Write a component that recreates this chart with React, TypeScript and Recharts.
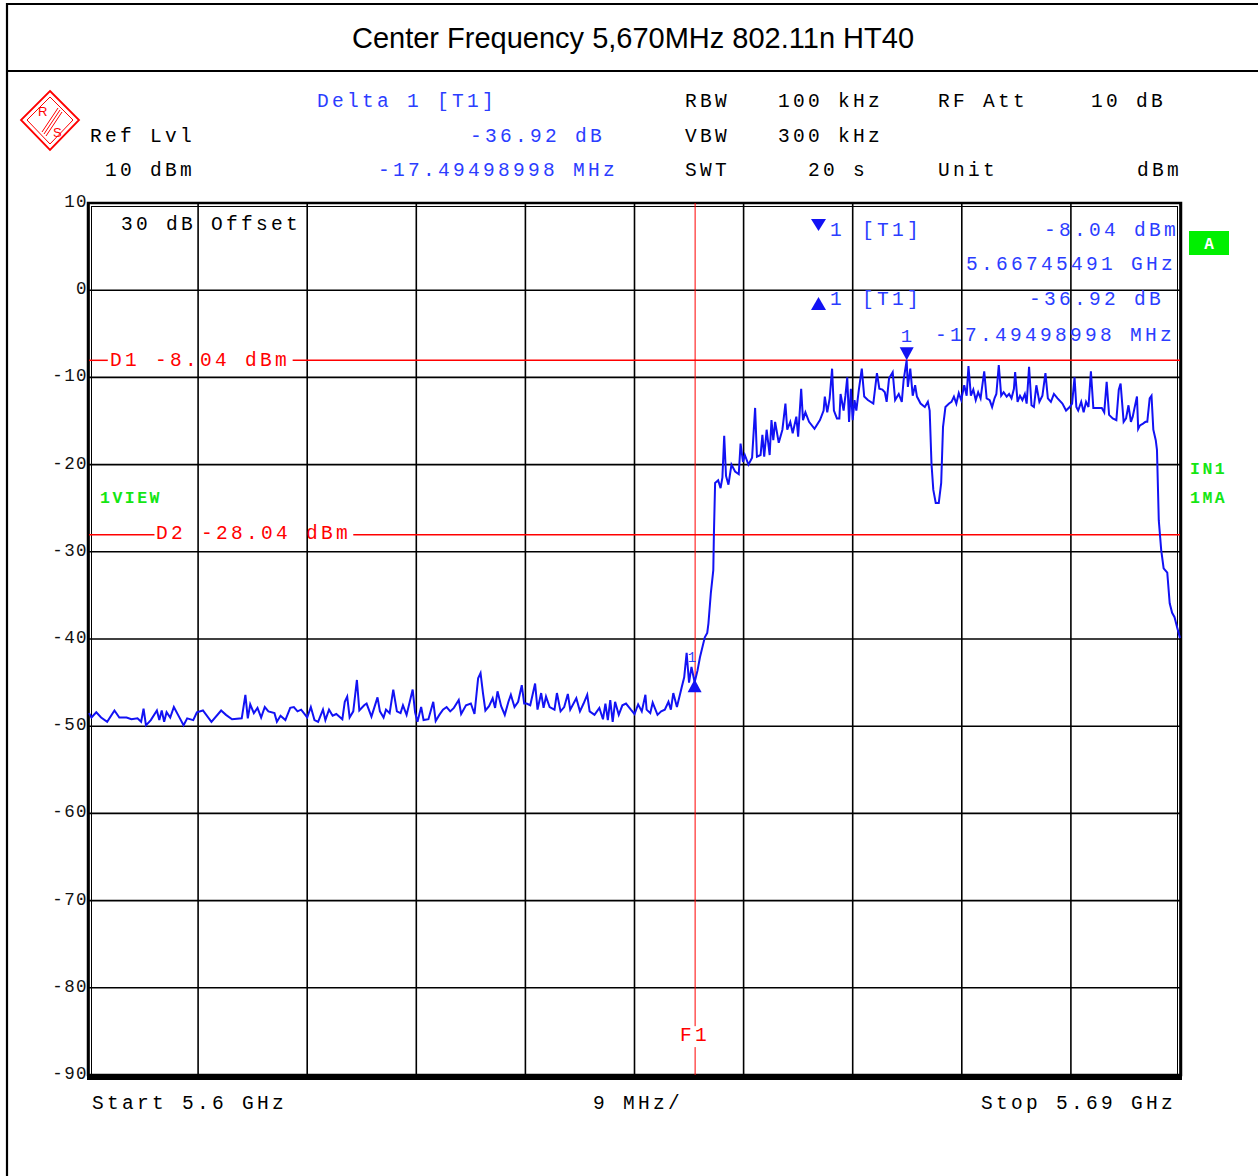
import React from 'react';
import { LineChart, Line, XAxis, YAxis, CartesianGrid, ReferenceLine, ReferenceDot, ReferenceArea } from 'recharts';

// frequencies are MHz above the 5.6 GHz start, levels in dBm
const gridFreqs = [0, 9, 18, 27, 36, 45, 54, 63, 72, 81, 90];
const levelTicks = [10, 0, -10, -20, -30, -40, -50, -60, -70, -80, -90];

const noiseFloor: [number, number][] = [
  [0, -48.5], [0.2, -49.0], [0.6, -48.4], [1.0, -49.0], [1.5, -49.5], [2.1, -48.2], [2.5, -49.0], [3.1, -49.0],
  [3.5, -49.2], [4.0, -49.1], [4.3, -49.5], [4.5, -48.0], [4.7, -49.9], [5.1, -49.3], [5.6, -48.2], [5.8, -49.3],
  [6.0, -48.2], [6.2, -49.5], [6.4, -48.4], [6.7, -49.0], [7.0, -47.8], [7.5, -49.1], [7.8, -49.9], [8.1, -49.1],
  [8.6, -49.3], [8.9, -48.4], [9.4, -48.2], [10.1, -49.5], [10.9, -48.2], [11.3, -48.7], [11.8, -49.2], [12.6, -49.1],
  [12.9, -46.4], [13.1, -49.1], [13.3, -47.5], [13.6, -48.5], [13.9, -47.9], [14.2, -49.0], [14.5, -47.8], [14.8, -48.3],
  [15.3, -48.5], [15.5, -49.5], [15.8, -48.8], [16.2, -49.3], [16.6, -47.9], [16.9, -47.8], [17.2, -48.3], [17.5, -48.1],
  [18.0, -49.0], [18.3, -47.8], [18.6, -49.3], [18.9, -49.5], [19.3, -48.1], [19.5, -49.3], [19.8, -48.1], [20.1, -48.8],
  [20.4, -48.6], [20.9, -49.2], [21.1, -47.2], [21.3, -46.6], [21.5, -49.0], [21.8, -48.3], [22.1, -44.7], [22.3, -48.2],
  [22.7, -47.6], [22.9, -47.4], [23.3, -48.9], [23.8, -46.7], [24.0, -48.3], [24.3, -49.0], [24.5, -48.1], [24.8, -48.5],
  [25.1, -45.8], [25.4, -48.3], [25.7, -48.5], [25.9, -47.6], [26.2, -48.7], [26.7, -45.8], [26.9, -48.4], [27.1, -49.5],
  [27.4, -47.8], [27.6, -49.3], [28.0, -49.2], [28.4, -47.2], [28.6, -49.4], [28.9, -48.7], [29.2, -48.1], [29.5, -47.8],
  [29.8, -48.3], [30.1, -47.9], [30.5, -47.0], [30.7, -48.6], [31.1, -47.6], [31.5, -47.4], [31.8, -48.6], [32.1, -44.5],
  [32.3, -43.9], [32.5, -46.2], [32.7, -48.2], [33.0, -47.7], [33.3, -46.8], [33.5, -47.9], [33.7, -46.0], [34.0, -47.7],
  [34.3, -48.7], [34.6, -47.2], [34.8, -46.4], [35.1, -47.8], [35.4, -47.2], [35.7, -45.3], [35.9, -47.4], [36.1, -47.4],
  [36.4, -47.6], [36.8, -45.1], [37.0, -48.1], [37.3, -46.2], [37.5, -47.9], [37.7, -46.6], [38.0, -47.8], [38.4, -48.1],
  [38.6, -46.2], [38.9, -48.3], [39.2, -47.8], [39.5, -46.3], [39.7, -48.1], [40.2, -46.8], [40.5, -48.3], [40.8, -47.4],
  [41.1, -46.4], [41.3, -48.3], [41.7, -48.7], [42.1, -47.9], [42.4, -49.2], [42.6, -47.4], [42.8, -49.3], [43.0, -47.0],
  [43.2, -49.5], [43.4, -47.2], [43.7, -48.7], [44.0, -47.6], [44.3, -47.4], [44.7, -48.1], [45.0, -48.6], [45.3, -47.5],
  [45.6, -48.3], [45.9, -46.4], [46.0, -48.1], [46.3, -48.5], [46.5, -47.3], [46.9, -48.7], [47.2, -48.3], [47.5, -48.1],
  [47.8, -47.2], [48.0, -48.1], [48.2, -46.2], [48.5, -47.8], [48.9, -45.5],
];

const rampUp: [number, number][] = [
  [49.1, -44.4], [49.3, -41.6], [49.5, -45.0], [49.7, -43.2], [49.96, -44.96], [50.2, -43.6], [50.4, -42.1], [50.8, -39.8],
  [51.0, -39.3], [51.1, -38.2], [51.3, -34.7], [51.5, -32.1], [51.55, -28.0], [51.65, -22.1], [51.9, -21.8], [52.1, -22.7],
];

const passband: [number, number][] = [
  [52.25, -21.5], [52.4, -16.7], [52.55, -21.3], [52.75, -22.3], [53.0, -20.0], [53.3, -20.8], [53.6, -21.1], [53.75, -17.6],
  [53.95, -19.7], [54.1, -18.9], [54.4, -20.0], [54.7, -19.2], [54.95, -13.5], [55.1, -19.1], [55.4, -18.9], [55.55, -16.6],
  [55.7, -19.1], [55.9, -16.0], [56.15, -18.9], [56.3, -14.9], [56.45, -17.2], [56.6, -15.1], [56.9, -17.5], [57.2, -16.0],
  [57.45, -13.0], [57.6, -16.0], [57.85, -15.1], [58.05, -16.4], [58.35, -14.5], [58.5, -16.8], [58.75, -11.3], [58.9, -14.9],
  [59.1, -14.0], [59.4, -15.1], [59.85, -15.9], [60.3, -14.9], [60.6, -13.8], [60.7, -12.2], [60.9, -14.0], [61.1, -12.4],
  [61.3, -9.0], [61.45, -13.8], [61.7, -14.7], [61.9, -14.7], [62.0, -11.9], [62.25, -13.8], [62.4, -12.1], [62.55, -10.0],
  [62.7, -15.1], [62.85, -11.3], [63.0, -14.9], [63.15, -12.6], [63.3, -13.8], [63.5, -11.5], [63.75, -9.0], [63.95, -12.2],
  [64.25, -12.6], [64.7, -13.0], [65.0, -9.5], [65.2, -11.3], [65.45, -11.4], [65.65, -11.7], [65.8, -12.8], [66.0, -10.1],
  [66.3, -9.4], [66.5, -12.6], [66.8, -11.9], [67.05, -12.8], [67.2, -10.3], [67.45, -8.04], [67.55, -11.1], [67.75, -9.0],
  [67.95, -12.1], [68.15, -10.9], [68.3, -12.2], [68.6, -13.0], [68.95, -13.4], [69.2, -12.8], [69.35, -13.8], [69.5, -19.9],
  [69.65, -22.9], [69.85, -24.4], [70.1, -24.4], [70.3, -22.1], [70.45, -15.7], [70.65, -13.4], [70.95, -13.0], [71.15, -12.8],
  [71.35, -12.2], [71.55, -13.0], [71.75, -11.8], [71.95, -12.6], [72.2, -10.9], [72.4, -12.1], [72.55, -8.7], [72.75, -12.1],
  [72.95, -11.4], [73.15, -12.6], [73.35, -11.7], [73.55, -12.4], [73.85, -9.3], [74.05, -12.4], [74.3, -12.6], [74.5, -13.4],
  [74.7, -12.4], [74.85, -11.9], [75.05, -8.6], [75.25, -12.1], [75.45, -11.7], [75.7, -12.2], [75.9, -11.9], [76.1, -12.4],
  [76.3, -11.3], [76.4, -9.4], [76.6, -12.8], [76.8, -12.1], [77.0, -12.6], [77.2, -11.9], [77.35, -13.0], [77.55, -8.8],
  [77.75, -13.2], [77.95, -13.4], [78.15, -10.9], [78.4, -12.8], [78.65, -12.1], [78.9, -9.5], [79.1, -12.4], [79.35, -12.8],
  [79.6, -11.9], [79.9, -12.4], [80.3, -13.0], [80.6, -13.8], [80.9, -13.4], [81.1, -13.0], [81.3, -10.0], [81.45, -13.4],
  [81.6, -13.8], [81.85, -12.8], [82.05, -14.0], [82.25, -12.8], [82.45, -13.4], [82.65, -9.3], [82.85, -13.5], [83.1, -13.5],
  [83.55, -13.5], [83.75, -14.0], [83.95, -10.5], [84.15, -14.3], [84.45, -14.7], [84.75, -14.9], [84.95, -11.4], [85.1, -10.7],
  [85.35, -15.1], [85.55, -14.7], [85.75, -13.2], [85.95, -15.1], [86.1, -14.5], [86.25, -13.5], [86.45, -12.2], [86.55, -15.9],
  [86.7, -15.5], [86.95, -15.3], [87.15, -15.1], [87.3, -15.1], [87.5, -12.4], [87.65, -12.1], [87.8, -16.0],
];

const rollOff: [number, number][] = [
  [88.0, -17.2], [88.1, -18.3], [88.25, -26.4], [88.45, -29.8], [88.65, -31.9], [88.95, -32.4], [89.15, -35.9], [89.35, -37.0],
  [89.55, -37.5], [89.75, -38.6], [90.0, -39.9],
];

const marker1Freq = 67.45491;
const marker1Level = -8.04;
const deltaFreq = -17.49498998;
const deltaLevel = -36.92;
const d1Level = -8.04;
const d2Level = -28.04;
const f1Freq = 50;

const traceData = [...noiseFloor, ...rampUp, ...passband, ...rollOff].map(([f, level]) => ({ f, level }));

const MONO = '"Liberation Mono", "DejaVu Sans Mono", monospace';
const BLUE = '#2b3dff';
const TRACE = '#1212f4';
const RED = '#ff0000';
const GREEN = '#14e614';

const headerTexts = [
  { x: 317, y: 107, t: 'Delta 1 [T1]', c: BLUE },
  { x: 685, y: 107, t: 'RBW', c: '#000' },
  { x: 778, y: 107, t: '100 kHz', c: '#000' },
  { x: 938, y: 107, t: 'RF Att', c: '#000' },
  { x: 1091, y: 107, t: '10 dB', c: '#000' },
  { x: 90, y: 142, t: 'Ref Lvl', c: '#000' },
  { x: 470, y: 142, t: '-36.92 dB', c: BLUE },
  { x: 685, y: 142, t: 'VBW', c: '#000' },
  { x: 778, y: 142, t: '300 kHz', c: '#000' },
  { x: 105, y: 176, t: '10 dBm', c: '#000' },
  { x: 378, y: 176, t: '-17.49498998 MHz', c: BLUE },
  { x: 685, y: 176, t: 'SWT', c: '#000' },
  { x: 808, y: 176, t: '20 s', c: '#000' },
  { x: 938, y: 176, t: 'Unit', c: '#000' },
  { x: 1137, y: 176, t: 'dBm', c: '#000' },
  { x: 121, y: 230, t: '30 dB Offset', c: '#000' },
  { x: 830, y: 236, t: '1', c: BLUE },
  { x: 862, y: 236, t: '[T1]', c: BLUE },
  { x: 1044, y: 236, t: '-8.04 dBm', c: BLUE },
  { x: 966, y: 270, t: '5.66745491 GHz', c: BLUE },
  { x: 830, y: 305, t: '1', c: BLUE },
  { x: 862, y: 305, t: '[T1]', c: BLUE },
  { x: 1029, y: 305, t: '-36.92 dB', c: BLUE },
  { x: 935, y: 341, t: '-17.49498998 MHz', c: BLUE },
  { x: 110, y: 366, t: 'D1 -8.04 dBm', c: RED },
  { x: 156, y: 539, t: 'D2 -28.04 dBm', c: RED },
  { x: 680, y: 1041, t: 'F1', c: RED },
  { x: 92, y: 1109, t: 'Start 5.6 GHz', c: '#000' },
  { x: 593, y: 1109, t: '9 MHz/', c: '#000' },
  { x: 981, y: 1109, t: 'Stop 5.69 GHz', c: '#000' },
];

const greenTexts = [
  { x: 100, y: 503, t: '1VIEW' },
  { x: 1190, y: 474, t: 'IN1' },
  { x: 1190, y: 503, t: '1MA' },
];

const LevelTick = (props: any) => {
  const { x, y, payload } = props;
  return (
    <text x={x} y={y + 4} textAnchor="end" fontFamily={MONO} fontSize={17.5} letterSpacing={1.4} fill="#111">
      {payload.value}
    </text>
  );
};

const PlotFrame = (props: any) => {
  const { x, y, width, height } = props;
  return (
    <g>
      <rect x={x - 1} y={y} width={width + 2} height={height} fill="none" stroke="#000" strokeWidth={2.5} />
      <rect x={x + 2.5} y={y + 3.5} width={width - 5} height={height - 3.5} fill="none" stroke="#000" strokeWidth={1} />
      <rect x={x - 2} y={y + height} width={width + 4} height={5} fill="#000" />
    </g>
  );
};

const DownMarker = (props: any) => {
  const { cx, cy } = props;
  return (
    <g>
      <polygon points={`${cx - 7},${cy - 13} ${cx + 7},${cy - 13} ${cx},${cy}`} fill={TRACE} />
      <text x={cx - 6} y={cy - 18} fontFamily={MONO} fontSize={19} fill={BLUE}>1</text>
    </g>
  );
};

const UpMarker = (props: any) => {
  const { cx, cy } = props;
  return (
    <g>
      <polygon points={`${cx},${cy - 3} ${cx + 7},${cy + 10} ${cx - 7},${cy + 10}`} fill={TRACE} />
      <text x={cx - 7} y={cy - 20} fontFamily={MONO} fontSize={14} fill={BLUE}>1</text>
    </g>
  );
};

export default function App() {
  return (
    <div style={{ position: 'relative', width: 1258, height: 1176, background: '#fff' }}>
      <style>{'body{margin:0}'}</style>
      <LineChart width={1258} height={1176} data={traceData} margin={{ top: 203, right: 78, bottom: 101, left: 0 }}>
        <CartesianGrid stroke="#000" strokeWidth={1.6} />
        <XAxis dataKey="f" type="number" domain={[0, 90]} ticks={gridFreqs} hide />
        <YAxis
          type="number"
          domain={[-90, 10]}
          ticks={levelTicks}
          width={89}
          axisLine={false}
          tickLine={false}
          tickSize={0}
          tickMargin={1}
          tick={<LevelTick />}
          interval={0}
        />
        <ReferenceLine segment={[{ x: 0, y: d1Level }, { x: 1.55, y: d1Level }]} stroke={RED} strokeWidth={1.5} />
        <ReferenceLine segment={[{ x: 16.8, y: d1Level }, { x: 90, y: d1Level }]} stroke={RED} strokeWidth={1.5} />
        <ReferenceLine segment={[{ x: 0, y: d2Level }, { x: 5.4, y: d2Level }]} stroke={RED} strokeWidth={1.5} />
        <ReferenceLine segment={[{ x: 21.8, y: d2Level }, { x: 90, y: d2Level }]} stroke={RED} strokeWidth={1.5} />
        <ReferenceLine segment={[{ x: f1Freq, y: 10 }, { x: f1Freq, y: -84.4 }]} stroke={RED} strokeWidth={1} />
        <ReferenceLine segment={[{ x: f1Freq, y: -86.8 }, { x: f1Freq, y: -90 }]} stroke={RED} strokeWidth={1} />
        <Line type="linear" dataKey="level" stroke={TRACE} strokeWidth={2} dot={false} isAnimationActive={false} />
        <ReferenceArea x1={0} x2={90} y1={-90} y2={10} shape={<PlotFrame />} ifOverflow="visible" />
        <ReferenceDot x={marker1Freq} y={marker1Level} shape={<DownMarker />} ifOverflow="visible" />
        <ReferenceDot x={marker1Freq + deltaFreq} y={marker1Level + deltaLevel} shape={<UpMarker />} ifOverflow="visible" />
      </LineChart>

      <svg width={1258} height={1176} style={{ position: 'absolute', left: 0, top: 0, pointerEvents: 'none' }}>
        {/* page frame */}
        <line x1={7} y1={3} x2={7} y2={1176} stroke="#000" strokeWidth={2.2} />
        <line x1={6} y1={4} x2={1258} y2={4} stroke="#000" strokeWidth={2.2} />
        <line x1={6} y1={71} x2={1258} y2={71} stroke="#000" strokeWidth={2.2} />
        <text x={633} y={48} textAnchor="middle" fontFamily='"Liberation Sans", Arial, sans-serif' fontSize={29} fill="#000">
          Center Frequency 5,670MHz 802.11n HT40
        </text>

        {/* R&S logo */}
        <g stroke={RED} fill="none" strokeWidth={1.8}>
          <polygon points="50,91 79,120 50,150 21,120" />
          <polygon points="50,97 73,120 50,144 27,120" strokeWidth={1} />
          <line x1={42} y1={132} x2={58} y2={108} strokeWidth={1} />
          <line x1={44} y1={134} x2={60} y2={110} strokeWidth={1} />
          <line x1={46} y1={136} x2={62} y2={112} strokeWidth={1} />
        </g>
        <text x={38} y={116} fontFamily='"Liberation Sans", sans-serif' fontSize={13} fill={RED}>R</text>
        <text x={53} y={137} fontFamily='"Liberation Sans", sans-serif' fontSize={13} fill={RED}>S</text>

        {headerTexts.map((d, i) => (
          <text key={i} x={d.x} y={d.y} fontFamily={MONO} fontSize={19.5} letterSpacing={3.3} fill={d.c}>{d.t}</text>
        ))}

        {/* delta marker glyphs in the info block */}
        <polygon points="811,219 826,219 818.5,231" fill={TRACE} />
        <polygon points="818.5,297 826,310 811,310" fill={TRACE} />

        {greenTexts.map((d, i) => (
          <text key={i} x={d.x} y={d.y} fontFamily={MONO} fontWeight="bold" fontSize={16.5} letterSpacing={2.5} fill={GREEN}>{d.t}</text>
        ))}
        <rect x={1189} y={231} width={40} height={24} fill="#00f000" />
        <text x={1209} y={249} textAnchor="middle" fontFamily={MONO} fontWeight="bold" fontSize={16} fill="#fff">A</text>
      </svg>
    </div>
  );
}
